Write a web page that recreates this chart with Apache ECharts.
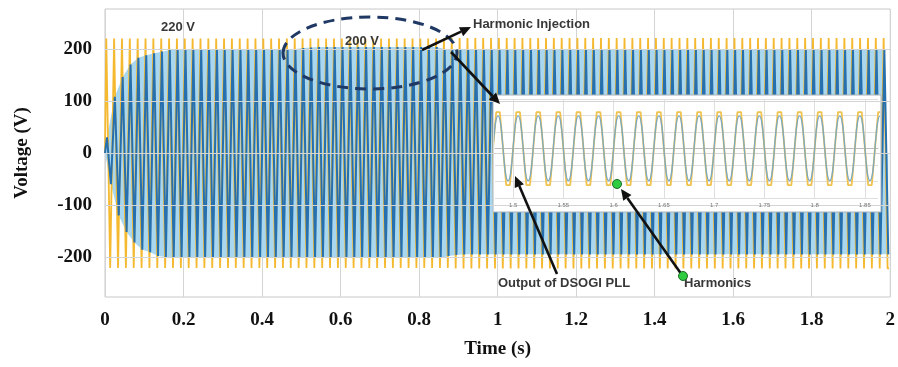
<!DOCTYPE html>
<html><head><meta charset="utf-8">
<script src="https://cdn.jsdelivr.net/npm/echarts@6/dist/echarts.min.js"></script>
<style>html,body{margin:0;padding:0;background:#fff}#c{width:898px;height:367px}</style>
</head><body><div id="c"></div>
<script>
// ---- data ----
const timeRange = [0, 2];
const voltageTicks = [-200, -100, 0, 100, 200];
const insetTimeTicks = [1.5, 1.55, 1.6, 1.65, 1.7, 1.75, 1.8, 1.85];
const insetTimeRange = [1.482, 1.863];
const cyclePeriod = 0.02;          // 50 Hz : 100 cycles over 2 s
const orangeFlatHalfWidth = 0.0018; // flat tops of the harmonic waveform (s)

// blue (DSOGI PLL output): positive / negative peak of each cycle (V)
const bluePos = [
 30,108,146,170,183,188,192,195,198,200,200,200,200,200,200,200,200,200,200,200,
 200,200,200,200,200,202,203,204,204,204,204,204,204,204,204,204,204,204,204,204,
 204,204,204,200,199,199,198,198,198,198,198,198,198,198,198,198,198,198,198,198,
 198,198,198,198,198,198,198,198,198,198,198,198,198,198,198,198,198,198,198,198,
 198,198,198,198,198,198,198,198,198,198,198,198,198,198,198,198,198,198,198,198];
const blueNeg = [
 -60,-120,-152,-172,-186,-191,-198,-200,-201,-202,-202,-202,-202,-202,-202,-202,-202,-202,-202,-202,
 -202,-202,-202,-202,-202,-202,-202,-202,-202,-202,-202,-202,-202,-202,-202,-202,-202,-202,-202,-202,
 -202,-202,-202,-198,-196,-195,-195,-195,-195,-195,-195,-195,-195,-195,-195,-195,-195,-195,-195,-195,
 -195,-195,-195,-195,-195,-195,-195,-195,-195,-195,-195,-195,-195,-195,-195,-195,-195,-195,-195,-195,
 -195,-195,-195,-195,-195,-195,-195,-195,-195,-195,-195,-195,-195,-195,-195,-195,-195,-195,-195,-195];
// orange (grid voltage with harmonics): positive / negative peak of each cycle (V)
const orangePos = [
 220,220,220,220,220,220,220,220,220,220,220,220,220,220,220,220,220,220,220,220,
 220,220,220,220,220,220,220,220,220,220,220,220,220,220,220,220,220,220,220,220,
 220,220,220,220,221,221,221,221,221,221,221,221,221,221,221,221,221,221,221,221,
 221,221,221,221,221,221,221,221,221,221,221,221,221,221,221,221,221,221,221,221,
 221,221,221,221,221,221,221,221,221,221,221,221,221,221,221,221,221,221,221,221];
const orangeNeg = [
 -221,-221,-221,-221,-221,-221,-221,-221,-221,-221,-221,-221,-221,-221,-221,-221,-221,-221,-221,-221,
 -221,-221,-221,-221,-221,-221,-221,-221,-221,-221,-221,-221,-221,-221,-221,-221,-221,-221,-221,-221,
 -221,-221,-221,-221,-222,-222,-222,-222,-222,-222,-222,-222,-222,-222,-222,-222,-222,-222,-222,-222,
 -222,-222,-222,-222,-222,-222,-222,-222,-222,-222,-222,-222,-222,-222,-222,-222,-222,-222,-222,-222,
 -222,-222,-222,-222,-222,-222,-222,-222,-222,-222,-222,-222,-222,-222,-222,-222,-222,-222,-222,-222];

// ---- build series data ----
const blueWave = [[0, 0]], bluePosEnv = [[0, 0]], blueNegEnv = [[0, 0]], orangeWave = [[0, 0]];
for (let k = 0; k < bluePos.length; k++) {
  const tp = k * cyclePeriod + cyclePeriod / 4, tn = k * cyclePeriod + 3 * cyclePeriod / 4;
  blueWave.push([tp, bluePos[k]], [tn, blueNeg[k]]);
  bluePosEnv.push([tp, bluePos[k]]);
  blueNegEnv.push([tn, blueNeg[k]]);
  orangeWave.push([tp - orangeFlatHalfWidth, orangePos[k]], [tp + orangeFlatHalfWidth, orangePos[k]],
                  [tn - orangeFlatHalfWidth, orangeNeg[k]], [tn + orangeFlatHalfWidth, orangeNeg[k]]);
}

const chart = echarts.init(document.getElementById('c'));
const serif = 'Liberation Serif, Times New Roman, serif';
const sans = 'Liberation Sans, Arial, sans-serif';

function arrow(x1, y1, x2, y2) {
  const a = Math.atan2(y2 - y1, x2 - x1), L = 11, W = 5;
  const bx = x2 - L * Math.cos(a), by = y2 - L * Math.sin(a);
  return [
    {type: 'line', z: 30, shape: {x1, y1, x2: bx, y2: by}, style: {stroke: '#111', lineWidth: 2.6}},
    {type: 'polygon', z: 30, shape: {points: [[x2, y2], [bx + W * Math.sin(a), by - W * Math.cos(a)], [bx - W * Math.sin(a), by + W * Math.cos(a)]]}, style: {fill: '#111'}}
  ];
}
function label(text, x, y, align) {
  return {type: 'text', z: 31, style: {text, x, y, fill: '#383838', font: 'bold 13px ' + sans, align: align || 'left', verticalAlign: 'middle'}};
}
const insetBox = {x: 493, y: 95, width: 388, height: 117};

const option = {
  animation: false,
  backgroundColor: '#fff',
  grid: [
    {left: 105, right: 3, top: 9, bottom: 70, show: true, borderColor: '#c8c8c8', borderWidth: 1},
    {left: insetBox.x + 2, right: 898 - (insetBox.x + insetBox.width) + 3, top: insetBox.y + 4, bottom: 367 - 198, show: false}
  ],
  xAxis: [
    {type: 'value', gridIndex: 0, min: timeRange[0], max: timeRange[1], interval: 0.2,
     name: 'Time (s)', nameLocation: 'middle', nameGap: 43,
     nameTextStyle: {fontFamily: serif, fontWeight: 'bold', fontSize: 19, color: '#111'},
     axisLine: {show: false}, axisTick: {show: false},
     splitLine: {show: true, lineStyle: {color: '#d4d4d4', width: 1}},
     axisLabel: {fontFamily: serif, fontWeight: 'bold', fontSize: 19, color: '#111', margin: 14}},
    {type: 'value', gridIndex: 1, min: insetTimeRange[0], max: insetTimeRange[1], z: 6,
     axisLine: {show: true, lineStyle: {color: '#bbb'}},
     axisTick: {show: true, customValues: insetTimeTicks, length: 3, lineStyle: {color: '#999'}},
     splitLine: {show: false},
     axisLabel: {customValues: insetTimeTicks, fontSize: 6, color: '#777', margin: 4, fontFamily: sans}}
  ],
  yAxis: [
    {type: 'value', gridIndex: 0, min: -277, max: 277,
     name: 'Voltage (V)', nameLocation: 'middle', nameGap: 73, nameRotate: 90,
     nameTextStyle: {fontFamily: serif, fontWeight: 'bold', fontSize: 19, color: '#111'},
     axisLine: {show: false}, axisTick: {show: false}, splitLine: {show: false},
     axisLabel: {customValues: voltageTicks, fontFamily: serif, fontWeight: 'bold', fontSize: 19, color: '#111', margin: 13}},
    {type: 'value', gridIndex: 1, min: -300, max: 300, interval: 100, z: 6,
     axisLine: {show: false}, axisTick: {show: false}, axisLabel: {show: false},
     splitLine: {show: true, lineStyle: {color: '#dedede', width: 1}}}
  ],
  series: [
    {type: 'line', xAxisIndex: 0, yAxisIndex: 0, data: orangeWave, showSymbol: false, silent: true,
     lineStyle: {color: '#f5b930', width: 1.8},
     markLine: {silent: true, symbol: 'none', label: {show: false},
       lineStyle: {color: '#d4d4d4', width: 1, type: 'solid'},
       data: voltageTicks.map(v => ({yAxis: v}))}},
    {type: 'line', xAxisIndex: 0, yAxisIndex: 0, data: bluePosEnv, showSymbol: false, silent: true,
     lineStyle: {width: 0}, areaStyle: {color: '#a9d7f0', opacity: 1}},
    {type: 'line', xAxisIndex: 0, yAxisIndex: 0, data: blueNegEnv, showSymbol: false, silent: true,
     lineStyle: {width: 0}, areaStyle: {color: '#a9d7f0', opacity: 1}},
    {type: 'line', xAxisIndex: 0, yAxisIndex: 0, data: blueWave, showSymbol: false, silent: true,
     lineStyle: {color: '#2770b0', width: 2}},
    {type: 'line', xAxisIndex: 1, yAxisIndex: 1, data: orangeWave, showSymbol: false, silent: true, z: 8,
     lineStyle: {color: '#f0c250', width: 1.8},
     markLine: {silent: true, symbol: 'none', label: {show: false},
       lineStyle: {color: '#dedede', width: 1, type: 'solid'},
       data: insetTimeTicks.map(v => ({xAxis: v}))}},
    {type: 'line', xAxisIndex: 1, yAxisIndex: 1, data: blueWave, showSymbol: false, silent: true, z: 9, smooth: true,
     lineStyle: {color: '#7aa9c4', width: 1.3}}
  ],
  graphic: [
    {type: 'rect', z: 5, shape: insetBox, style: {fill: '#fff', stroke: '#aab4be', lineWidth: 1}},
    {type: 'ellipse', z: 29, shape: {cx: 370, cy: 53, rx: 87, ry: 36},
     style: {fill: 'none', stroke: '#1f3864', lineWidth: 3, lineDash: [11, 7]}},
    label('220 V', 178, 27, 'center'),
    label('200 V', 362, 41, 'center'),
    label('Harmonic Injection', 473, 24),
    label('Output of DSOGI PLL', 564, 283, 'center'),
    label('Harmonics', 684, 283),
    ...arrow(422, 50, 471, 27),
    ...arrow(451, 52, 500, 104),
    ...arrow(557, 274, 515, 176),
    ...arrow(682, 275, 621, 189),
    {type: 'circle', z: 32, shape: {cx: 617, cy: 184, r: 4.5}, style: {fill: '#2ecc40', stroke: '#1a6b22', lineWidth: 1}},
    {type: 'circle', z: 32, shape: {cx: 683, cy: 276, r: 4.5}, style: {fill: '#2ecc40', stroke: '#1a6b22', lineWidth: 1}}
  ]
};
chart.setOption(option);
</script>
</body></html>
